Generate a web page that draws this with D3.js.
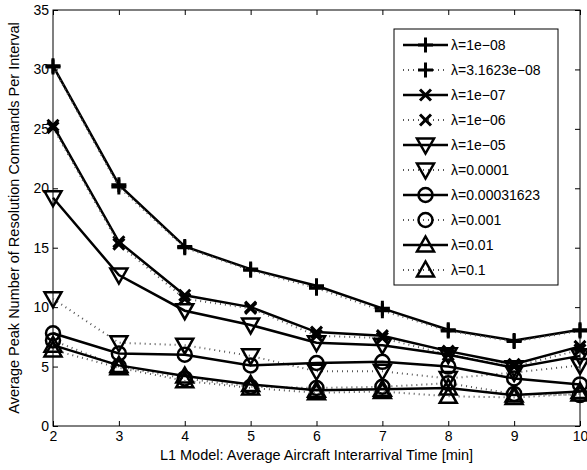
<!DOCTYPE html>
<html><head><meta charset="utf-8">
<script src="https://cdn.jsdelivr.net/npm/d3@7"></script>
<style>body{margin:0;background:#fff}svg{display:block}text{font-family:"Liberation Sans",Arial,sans-serif}</style>
</head><body><div id="c"></div>
<script>
const xValues = [2,3,4,5,6,7,8,9,10];
const xTicks = [2,3,4,5,6,7,8,9,10];
const yTicks = [0,5,10,15,20,25,30,35];
const labels = ["λ=1e−08","λ=3.1623e−08","λ=1e−07","λ=1e−06","λ=1e−05","λ=0.0001","λ=0.00031623","λ=0.001","λ=0.01","λ=0.1"];
const markers = ["plus","plus","x","x","tridown","tridown","circle","circle","triup","triup"];
const dotted = [false,true,false,true,false,true,false,true,false,true];
const s1 = [30.3,20.3,15.1,13.2,11.8,9.9,8.1,7.2,8.1];
const s2 = [30.2,20.1,15.0,13.1,11.6,9.7,8.0,7.1,8.0];
const s3 = [25.3,15.5,11.0,10.0,7.9,7.6,6.3,5.2,6.7];
const s4 = [25.1,15.3,10.7,9.9,7.6,7.4,6.0,5.0,6.4];
const s5 = [19.2,12.7,9.7,8.5,7.0,6.8,6.0,4.9,5.9];
const s6 = [10.7,7.0,6.8,5.9,4.6,4.6,4.0,4.5,5.1];
const s7 = [7.8,6.1,6.0,5.1,5.3,5.4,5.0,4.0,3.5];
const s8 = [7.2,5.0,4.0,3.3,3.2,3.3,3.6,2.7,2.6];
const s9 = [6.8,5.1,4.2,3.5,3.0,3.1,3.2,2.6,2.9];
const s10 = [6.4,4.9,3.8,3.2,2.8,2.9,2.5,2.4,2.7];
const series = [s1,s2,s3,s4,s5,s6,s7,s8,s9,s10];

const W=587,H=470;
const L=53,R=580,T=10,B=426;
const svg=d3.select("#c").append("svg").attr("width",W).attr("height",H);
const x=d3.scaleLinear().domain([2,10]).range([L,R]);
const y=d3.scaleLinear().domain([0,35]).range([B,T]);

svg.append("rect").attr("x",L).attr("y",T).attr("width",R-L).attr("height",B-T).attr("fill","none").attr("stroke","#000").attr("stroke-width",1);
const ax=(g)=>{g.selectAll(".domain").remove();g.selectAll("line").attr("stroke","#000");g.selectAll("text").attr("font-size",14).attr("fill","#000");};
svg.append("g").attr("transform",`translate(0,${B})`).call(d3.axisBottom(x).tickValues(xTicks).tickSizeInner(-5).tickSizeOuter(0).tickPadding(5).tickFormat(d3.format("d"))).call(ax);
svg.append("g").attr("transform",`translate(0,${T})`).call(d3.axisTop(x).tickValues(xTicks).tickSizeInner(-5).tickSizeOuter(0).tickFormat("")).call(ax);
svg.append("g").attr("transform",`translate(${L},0)`).call(d3.axisLeft(y).tickValues(yTicks).tickSizeInner(-5).tickSizeOuter(0).tickPadding(4).tickFormat(d3.format("d"))).call(ax);
svg.append("g").attr("transform",`translate(${R},0)`).call(d3.axisRight(y).tickValues(yTicks).tickSizeInner(-5).tickSizeOuter(0).tickFormat("")).call(ax);

function marker(g,type,cx,cy){
  const sw=2.5;
  if(type==="plus"){
    g.append("path").attr("d",`M${cx-7.5},${cy}H${cx+7.5}M${cx},${cy-7.5}V${cy+7.5}`).attr("stroke","#000").attr("stroke-width",3).attr("fill","none");
  }else if(type==="x"){
    g.append("path").attr("d",`M${cx-5.5},${cy-5.5}L${cx+5.5},${cy+5.5}M${cx-5.5},${cy+5.5}L${cx+5.5},${cy-5.5}`).attr("stroke","#000").attr("stroke-width",3).attr("fill","none");
  }else if(type==="circle"){
    g.append("circle").attr("cx",cx).attr("cy",cy).attr("r",7).attr("stroke","#000").attr("stroke-width",sw).attr("fill","none");
  }else if(type==="tridown"){
    g.append("path").attr("d",`M${cx-8.5},${cy-6.5}L${cx+8.5},${cy-6.5}L${cx},${cy+8.5}Z`).attr("stroke","#000").attr("stroke-width",sw).attr("fill","none");
  }else if(type==="triup"){
    g.append("path").attr("d",`M${cx-8.5},${cy+6.5}L${cx+8.5},${cy+6.5}L${cx},${cy-8.5}Z`).attr("stroke","#000").attr("stroke-width",sw).attr("fill","none");
  }
}
function styleLine(p,i){
  if(dotted[i]) p.attr("stroke","#555").attr("stroke-width",2).attr("stroke-dasharray","1,4");
  else p.attr("stroke","#000").attr("stroke-width",2.5);
}

const line=d3.line().x((d,i)=>x(xValues[i])).y(d=>y(d));
const plot=svg.append("g");
series.forEach((s,i)=>{
  const g=plot.append("g");
  styleLine(g.append("path").attr("d",line(s)).attr("fill","none"),i);
  s.forEach((v,j)=>marker(g,markers[i],x(xValues[j]),y(v)));
});

const lg=svg.append("g");
lg.append("rect").attr("x",394).attr("y",29).attr("width",164).attr("height",256).attr("fill","#fff").attr("stroke","#000").attr("stroke-width",1);
labels.forEach((t,i)=>{
  const yy=45+i*25;
  styleLine(lg.append("line").attr("x1",403).attr("x2",448).attr("y1",yy).attr("y2",yy),i);
  marker(lg,markers[i],425.5,yy);
  lg.append("text").attr("x",451).attr("y",yy+5).attr("font-size",14).text(t);
});

svg.append("text").attr("x",(L+R)/2).attr("y",460).attr("text-anchor","middle").attr("font-size",14.5).text("L1 Model: Average Aircraft Interarrival Time [min]");
svg.append("text").attr("transform",`translate(19,${(T+B)/2}) rotate(-90)`).attr("text-anchor","middle").attr("font-size",14.5).text("Average Peak Number of Resolution Commands Per Interval");
</script></body></html>
